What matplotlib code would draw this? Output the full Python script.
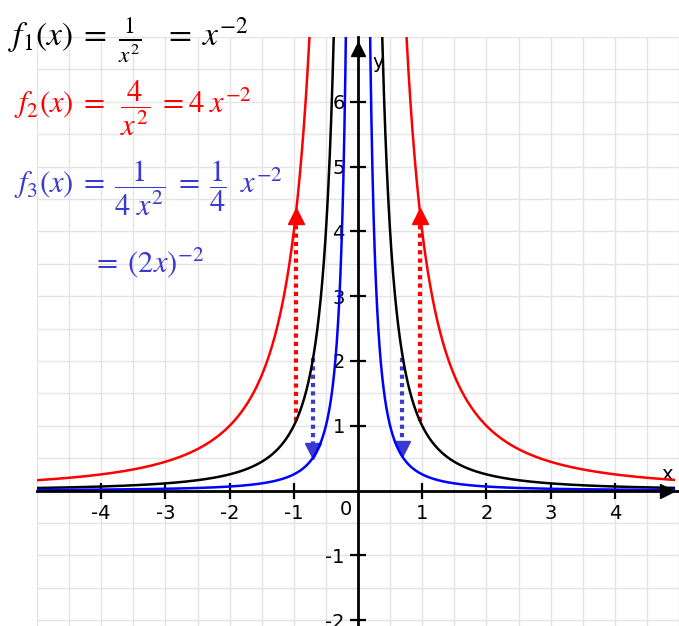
import numpy as np
import matplotlib
matplotlib.use("Agg")
import matplotlib.pyplot as plt

plt.rcParams["axes.unicode_minus"] = False
plt.rcParams["mathtext.fontset"] = "stix"

# f(x) = k / x^2
coef = [1, 4, 0.25]
couleurs = ["black", "#ff0000", "#0000ff"]

# fleches pointillees : (x0, y depart, y arrivee)
fleches_rouges = [(-0.96, 1.08, 4.34), (0.96, 1.08, 4.34)]
fleches_bleues = [(-0.70, 2.04, 0.51), (0.68, 2.04, 0.54)]

xticks = [-4, -3, -2, -1, 1, 2, 3, 4]
yticks = [-2, -1, 1, 2, 3, 4, 5, 6]

W, H = 679, 626
fig = plt.figure(figsize=(W / 100, H / 100), dpi=100)
ax = fig.add_axes([37 / W, 0, (W - 37) / W, (H - 37) / H])
ax.set_xlim(-5.0, 4.92)
ax.set_ylim(-2.09, 6.97)

# grille tous les 0.5
ax.set_xticks(np.arange(-5, 5.01, 0.5), minor=True)
ax.set_yticks(np.arange(-2, 7.01, 0.5), minor=True)
ax.grid(True, which="both", color="#e4e4e4", lw=1)
ax.tick_params(which="minor", length=0)
ax.set_axisbelow(True)

ax.spines["left"].set_position("zero")
ax.spines["bottom"].set_position("zero")
ax.spines["top"].set_visible(False)
ax.spines["right"].set_visible(False)
for s in ["left", "bottom"]:
    ax.spines[s].set_linewidth(2)
    ax.spines[s].set_zorder(5)

ax.set_xticks(xticks)
ax.set_yticks(yticks)
ax.tick_params(which="major", direction="inout", length=11, width=1.6,
               labelsize=14, pad=4)
ax.text(-0.1, -0.15, "0", fontsize=14, ha="right", va="top")
ax.text(4.9, 0.1, "x", fontsize=14, ha="right", va="bottom")
ax.text(0.22, 6.6, "y", fontsize=14, ha="left", va="center")

# fleches des axes
ax.plot(4.82, 0, ">", color="black", ms=10, clip_on=False, zorder=6)
ax.plot(0, 6.82, "^", color="black", ms=10, clip_on=False, zorder=6)

# courbes
for k, c in zip(coef, couleurs):
    for x in (np.linspace(-5.0, -0.02, 2000), np.linspace(0.02, 4.92, 2000)):
        ax.plot(x, k / x ** 2, color=c, lw=1.8, zorder=4)

# fleches pointillees
for x0, y0, y1 in fleches_rouges:
    ax.plot([x0, x0], [y0, y1 - 0.2], color="#ff0000", ls=(0, (1, 1)), lw=3, zorder=3)
    ax.plot(x0, y1 - 0.1, "^", color="#ff0000", ms=11, zorder=3)
for x0, y0, y1 in fleches_bleues:
    ax.plot([x0, x0], [y0, y1 + 0.2], color="#3a3ad0", ls=(0, (1, 1)), lw=3, zorder=3)
    ax.plot(x0, y1 + 0.1, "v", color="#3a3ad0", ms=11, zorder=3)

fig.text(8 / W, 1 - 40 / H, r"$f_1(x)\;=\;\frac{1}{x^2}\;\;\;=\;x^{-2}$",
         fontsize=24, ha="left", va="center", color="black")
fig.text(14 / W, 1 - 108 / H, r"$f_2(x)\;=\;\;\dfrac{4}{x^2}\;=4\;x^{-2}$",
         fontsize=22, ha="left", va="center", color="#ff0000")
fig.text(14 / W, 1 - 188 / H, r"$f_3(x)\;=\;\dfrac{1}{4\;x^2}\;=\;\dfrac{1}{4}\;\;x^{-2}$",
         fontsize=22, ha="left", va="center", color="#3a3ad0")
fig.text(92 / W, 1 - 262 / H, r"$=\;(2x)^{-2}$",
         fontsize=22, ha="left", va="center", color="#3a3ad0")

fig.savefig("out.png", dpi=100)
